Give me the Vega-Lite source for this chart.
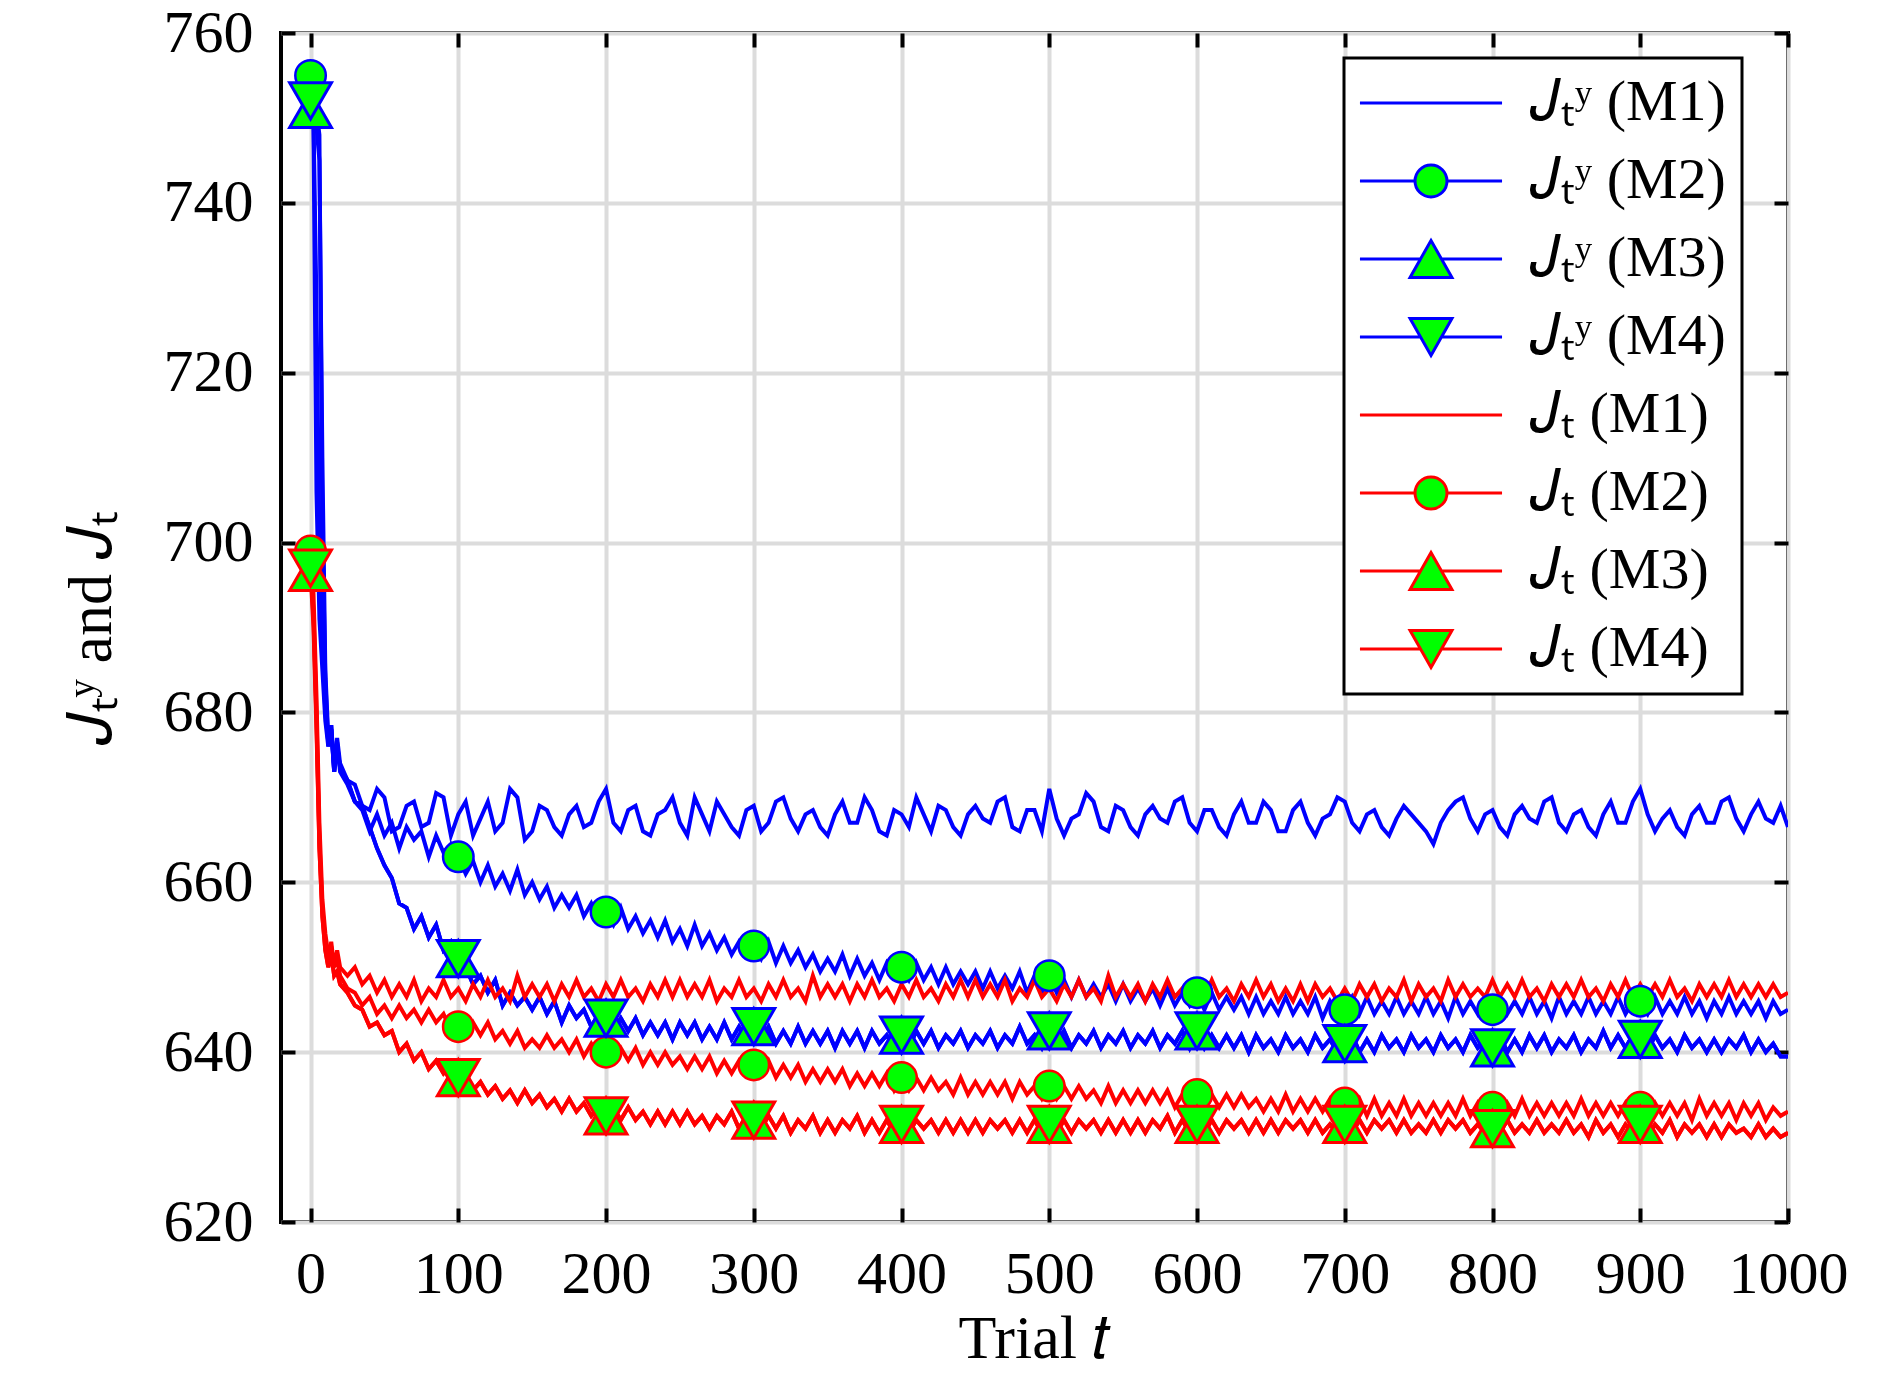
{
  "$schema": "https://vega.github.io/schema/vega-lite/v6.json",
  "width": 1507,
  "height": 1189,
  "autosize": {"type": "none"},
  "padding": {"left": 281, "top": 33, "right": 102, "bottom": 156},
  "background": "white",
  "config": {"view": {"stroke": "black", "strokeWidth": 4}, "font": "Liberation Serif", "legend": {"strokeWidth": 3}},
  "data": {
    "values": [
{"t":0,"s":"a","v":752},{"t":2,"s":"a","v":749},{"t":4,"s":"a","v":706},{"t":6,"s":"a","v":691},{"t":8,"s":"a","v":685},{"t":10,"s":"a","v":679},{"t":12,"s":"a","v":676},{"t":14,"s":"a","v":678.5},{"t":16,"s":"a","v":673},{"t":18,"s":"a","v":677},{"t":20,"s":"a","v":674},
{"t":25,"s":"a","v":672},{"t":30,"s":"a","v":671.5},{"t":35,"s":"a","v":669},{"t":40,"s":"a","v":668.5},{"t":45,"s":"a","v":671},
{"t":50,"s":"a","v":670},{"t":55,"s":"a","v":666},{"t":60,"s":"a","v":666.5},{"t":65,"s":"a","v":669},{"t":70,"s":"a","v":669.5},{"t":75,"s":"a","v":666.5},{"t":80,"s":"a","v":667},{"t":85,"s":"a","v":670.5},{"t":90,"s":"a","v":670},{"t":95,"s":"a","v":665.5},
{"t":100,"s":"a","v":668},{"t":105,"s":"a","v":669.5},{"t":110,"s":"a","v":665.5},{"t":115,"s":"a","v":667.5},{"t":120,"s":"a","v":669.5},{"t":125,"s":"a","v":666},{"t":130,"s":"a","v":667},{"t":135,"s":"a","v":671},{"t":140,"s":"a","v":670},{"t":145,"s":"a","v":665},
{"t":150,"s":"a","v":666},{"t":155,"s":"a","v":669},{"t":160,"s":"a","v":668.5},{"t":165,"s":"a","v":666.5},{"t":170,"s":"a","v":665.5},{"t":175,"s":"a","v":668},{"t":180,"s":"a","v":669},{"t":185,"s":"a","v":666.5},{"t":190,"s":"a","v":667},{"t":195,"s":"a","v":669.5},
{"t":200,"s":"a","v":671},{"t":205,"s":"a","v":667},{"t":210,"s":"a","v":666},{"t":215,"s":"a","v":668.5},{"t":220,"s":"a","v":669},{"t":225,"s":"a","v":666},{"t":230,"s":"a","v":665.5},{"t":235,"s":"a","v":668},{"t":240,"s":"a","v":668.5},{"t":245,"s":"a","v":670},
{"t":250,"s":"a","v":667},{"t":255,"s":"a","v":665.5},{"t":260,"s":"a","v":670},{"t":265,"s":"a","v":668},{"t":270,"s":"a","v":666},{"t":275,"s":"a","v":669.5},{"t":280,"s":"a","v":668},{"t":285,"s":"a","v":666.5},{"t":290,"s":"a","v":665.5},{"t":295,"s":"a","v":668.5},
{"t":300,"s":"a","v":669},{"t":305,"s":"a","v":666},{"t":310,"s":"a","v":667},{"t":315,"s":"a","v":669.5},{"t":320,"s":"a","v":670},{"t":325,"s":"a","v":667.5},{"t":330,"s":"a","v":666},{"t":335,"s":"a","v":668},{"t":340,"s":"a","v":668.5},{"t":345,"s":"a","v":666.5},
{"t":350,"s":"a","v":665.5},{"t":355,"s":"a","v":668},{"t":360,"s":"a","v":669.5},{"t":365,"s":"a","v":667},{"t":370,"s":"a","v":667},{"t":375,"s":"a","v":670},{"t":380,"s":"a","v":668.5},{"t":385,"s":"a","v":666},{"t":390,"s":"a","v":665.5},{"t":395,"s":"a","v":668.5},
{"t":400,"s":"a","v":668},{"t":405,"s":"a","v":666.5},{"t":410,"s":"a","v":670},{"t":415,"s":"a","v":668},{"t":420,"s":"a","v":666},{"t":425,"s":"a","v":669},{"t":430,"s":"a","v":668.5},{"t":435,"s":"a","v":666.5},{"t":440,"s":"a","v":665.5},{"t":445,"s":"a","v":668},
{"t":450,"s":"a","v":669},{"t":455,"s":"a","v":667.5},{"t":460,"s":"a","v":667},{"t":465,"s":"a","v":669.5},{"t":470,"s":"a","v":670},{"t":475,"s":"a","v":666.5},{"t":480,"s":"a","v":666},{"t":485,"s":"a","v":668.5},{"t":490,"s":"a","v":668.5},{"t":495,"s":"a","v":666},
{"t":500,"s":"a","v":671},{"t":505,"s":"a","v":667.5},{"t":510,"s":"a","v":665.5},{"t":515,"s":"a","v":667.5},{"t":520,"s":"a","v":668},{"t":525,"s":"a","v":670.5},{"t":530,"s":"a","v":669.5},{"t":535,"s":"a","v":666.5},{"t":540,"s":"a","v":666},{"t":545,"s":"a","v":669},
{"t":550,"s":"a","v":668.5},{"t":555,"s":"a","v":666.5},{"t":560,"s":"a","v":665.5},{"t":565,"s":"a","v":668},{"t":570,"s":"a","v":669},{"t":575,"s":"a","v":667.5},{"t":580,"s":"a","v":667},{"t":585,"s":"a","v":669.5},{"t":590,"s":"a","v":670},{"t":595,"s":"a","v":667},
{"t":600,"s":"a","v":666},{"t":605,"s":"a","v":668.5},{"t":610,"s":"a","v":668.5},{"t":615,"s":"a","v":666.5},{"t":620,"s":"a","v":665.5},{"t":625,"s":"a","v":668},{"t":630,"s":"a","v":669.5},{"t":635,"s":"a","v":667},{"t":640,"s":"a","v":667},{"t":645,"s":"a","v":669.5},
{"t":650,"s":"a","v":668.5},{"t":655,"s":"a","v":666},{"t":660,"s":"a","v":666},{"t":665,"s":"a","v":668.5},{"t":670,"s":"a","v":669.5},{"t":675,"s":"a","v":667},{"t":680,"s":"a","v":665.5},{"t":685,"s":"a","v":667.5},{"t":690,"s":"a","v":668},{"t":695,"s":"a","v":670},
{"t":700,"s":"a","v":669.5},{"t":705,"s":"a","v":667},{"t":710,"s":"a","v":666},{"t":715,"s":"a","v":668},{"t":720,"s":"a","v":668.5},{"t":725,"s":"a","v":666.5},{"t":730,"s":"a","v":665.5},{"t":735,"s":"a","v":667.5},{"t":740,"s":"a","v":669},{"t":745,"s":"a","v":668},
{"t":750,"s":"a","v":667},{"t":755,"s":"a","v":666},{"t":760,"s":"a","v":664.5},{"t":765,"s":"a","v":667},{"t":770,"s":"a","v":668.5},{"t":775,"s":"a","v":669.5},{"t":780,"s":"a","v":670},{"t":785,"s":"a","v":667.5},{"t":790,"s":"a","v":666},{"t":795,"s":"a","v":668},
{"t":800,"s":"a","v":668.5},{"t":805,"s":"a","v":666.5},{"t":810,"s":"a","v":665.5},{"t":815,"s":"a","v":668},{"t":820,"s":"a","v":669},{"t":825,"s":"a","v":667.5},{"t":830,"s":"a","v":667},{"t":835,"s":"a","v":669.5},{"t":840,"s":"a","v":670},{"t":845,"s":"a","v":667},
{"t":850,"s":"a","v":666},{"t":855,"s":"a","v":668},{"t":860,"s":"a","v":668.5},{"t":865,"s":"a","v":666.5},{"t":870,"s":"a","v":665.5},{"t":875,"s":"a","v":668},{"t":880,"s":"a","v":669.5},{"t":885,"s":"a","v":667},{"t":890,"s":"a","v":667},{"t":895,"s":"a","v":669.5},
{"t":900,"s":"a","v":671},{"t":905,"s":"a","v":668},{"t":910,"s":"a","v":666},{"t":915,"s":"a","v":667.5},{"t":920,"s":"a","v":668.5},{"t":925,"s":"a","v":666.5},{"t":930,"s":"a","v":665.5},{"t":935,"s":"a","v":668},{"t":940,"s":"a","v":669},{"t":945,"s":"a","v":667},
{"t":950,"s":"a","v":667},{"t":955,"s":"a","v":669.5},{"t":960,"s":"a","v":670},{"t":965,"s":"a","v":667.5},{"t":970,"s":"a","v":666},{"t":975,"s":"a","v":668},{"t":980,"s":"a","v":669.5},{"t":985,"s":"a","v":667.5},{"t":990,"s":"a","v":667},{"t":995,"s":"a","v":669},{"t":1000,"s":"a","v":666.5},

{"t":0,"s":"b","v":755},{"t":2,"s":"b","v":753},{"t":4,"s":"b","v":751},{"t":6,"s":"b","v":748},{"t":8,"s":"b","v":702},{"t":10,"s":"b","v":684},{"t":12,"s":"b","v":676},{"t":14,"s":"b","v":678.5},{"t":16,"s":"b","v":673.5},{"t":18,"s":"b","v":676.5},{"t":20,"s":"b","v":673},
{"t":25,"s":"b","v":671.5},{"t":30,"s":"b","v":669.5},{"t":35,"s":"b","v":668.5},{"t":40,"s":"b","v":666},{"t":45,"s":"b","v":668},
{"t":50,"s":"b","v":665.5},{"t":55,"s":"b","v":667},{"t":60,"s":"b","v":664},{"t":65,"s":"b","v":666.5},{"t":70,"s":"b","v":665},{"t":75,"s":"b","v":666},{"t":80,"s":"b","v":663},{"t":85,"s":"b","v":665.5},{"t":90,"s":"b","v":663.5},{"t":95,"s":"b","v":664.5},
{"t":100,"s":"b","v":663},{"t":105,"s":"b","v":661},{"t":110,"s":"b","v":662.5},{"t":115,"s":"b","v":660},{"t":120,"s":"b","v":662},{"t":125,"s":"b","v":659.5},{"t":130,"s":"b","v":661},{"t":135,"s":"b","v":659},{"t":140,"s":"b","v":661.5},{"t":145,"s":"b","v":658.5},
{"t":150,"s":"b","v":660},{"t":155,"s":"b","v":658},{"t":160,"s":"b","v":659.5},{"t":165,"s":"b","v":657},{"t":170,"s":"b","v":658.5},{"t":175,"s":"b","v":657},{"t":180,"s":"b","v":658.5},{"t":185,"s":"b","v":656},{"t":190,"s":"b","v":657.5},{"t":195,"s":"b","v":655.5},
{"t":200,"s":"b","v":656.5},{"t":205,"s":"b","v":655},{"t":210,"s":"b","v":657},{"t":215,"s":"b","v":654.5},{"t":220,"s":"b","v":656},{"t":225,"s":"b","v":654},{"t":230,"s":"b","v":655.5},{"t":235,"s":"b","v":653.5},{"t":240,"s":"b","v":655.5},{"t":245,"s":"b","v":653},
{"t":250,"s":"b","v":654.5},{"t":255,"s":"b","v":652.5},{"t":260,"s":"b","v":655},{"t":265,"s":"b","v":652.5},{"t":270,"s":"b","v":654},{"t":275,"s":"b","v":652},{"t":280,"s":"b","v":653.5},{"t":285,"s":"b","v":651.5},{"t":290,"s":"b","v":653},{"t":295,"s":"b","v":651.5},
{"t":300,"s":"b","v":652.5},{"t":305,"s":"b","v":651},{"t":310,"s":"b","v":653},{"t":315,"s":"b","v":650.5},{"t":320,"s":"b","v":652.5},{"t":325,"s":"b","v":650.5},{"t":330,"s":"b","v":652},{"t":335,"s":"b","v":650},{"t":340,"s":"b","v":651.5},{"t":345,"s":"b","v":649.5},
{"t":350,"s":"b","v":651},{"t":355,"s":"b","v":649.5},{"t":360,"s":"b","v":651.5},{"t":365,"s":"b","v":649},{"t":370,"s":"b","v":651},{"t":375,"s":"b","v":649},{"t":380,"s":"b","v":650.5},{"t":385,"s":"b","v":648.5},{"t":390,"s":"b","v":650.5},{"t":395,"s":"b","v":649},
{"t":400,"s":"b","v":650},{"t":405,"s":"b","v":648.5},{"t":410,"s":"b","v":650.5},{"t":415,"s":"b","v":648.5},{"t":420,"s":"b","v":650},{"t":425,"s":"b","v":648},{"t":430,"s":"b","v":650},{"t":435,"s":"b","v":648},{"t":440,"s":"b","v":649.5},{"t":445,"s":"b","v":648},
{"t":450,"s":"b","v":649.5},{"t":455,"s":"b","v":647.5},{"t":460,"s":"b","v":649.5},{"t":465,"s":"b","v":647.5},{"t":470,"s":"b","v":649},{"t":475,"s":"b","v":647.5},{"t":480,"s":"b","v":649.5},{"t":485,"s":"b","v":647},{"t":490,"s":"b","v":649},{"t":495,"s":"b","v":647},
{"t":500,"s":"b","v":649},{"t":505,"s":"b","v":647},{"t":510,"s":"b","v":648.5},{"t":515,"s":"b","v":646.5},{"t":520,"s":"b","v":648.5},{"t":525,"s":"b","v":646.5},{"t":530,"s":"b","v":648},{"t":535,"s":"b","v":646.5},{"t":540,"s":"b","v":648},{"t":545,"s":"b","v":646},
{"t":550,"s":"b","v":648},{"t":555,"s":"b","v":646},{"t":560,"s":"b","v":647.5},{"t":565,"s":"b","v":646},{"t":570,"s":"b","v":647.5},{"t":575,"s":"b","v":645.5},{"t":580,"s":"b","v":647.5},{"t":585,"s":"b","v":645.5},{"t":590,"s":"b","v":647},{"t":595,"s":"b","v":645.5},
{"t":600,"s":"b","v":647},{"t":605,"s":"b","v":645},{"t":610,"s":"b","v":647},{"t":615,"s":"b","v":645},{"t":620,"s":"b","v":646.5},{"t":625,"s":"b","v":645},{"t":630,"s":"b","v":646.5},{"t":635,"s":"b","v":644.5},{"t":640,"s":"b","v":646.5},{"t":645,"s":"b","v":644.5},
{"t":650,"s":"b","v":646},{"t":655,"s":"b","v":644.5},{"t":660,"s":"b","v":646.5},{"t":665,"s":"b","v":644.5},{"t":670,"s":"b","v":646},{"t":675,"s":"b","v":644.5},{"t":680,"s":"b","v":646.5},{"t":685,"s":"b","v":644},{"t":690,"s":"b","v":646},{"t":695,"s":"b","v":644.5},
{"t":700,"s":"b","v":645},{"t":705,"s":"b","v":646.5},{"t":710,"s":"b","v":644.5},{"t":715,"s":"b","v":646.5},{"t":720,"s":"b","v":644.5},{"t":725,"s":"b","v":646},{"t":730,"s":"b","v":644.5},{"t":735,"s":"b","v":646.5},{"t":740,"s":"b","v":644.5},{"t":745,"s":"b","v":646},
{"t":750,"s":"b","v":644.5},{"t":755,"s":"b","v":646.5},{"t":760,"s":"b","v":644.5},{"t":765,"s":"b","v":646},{"t":770,"s":"b","v":644},{"t":775,"s":"b","v":646.5},{"t":780,"s":"b","v":644.5},{"t":785,"s":"b","v":646},{"t":790,"s":"b","v":644.5},{"t":795,"s":"b","v":646.5},
{"t":800,"s":"b","v":645},{"t":805,"s":"b","v":646.5},{"t":810,"s":"b","v":644.5},{"t":815,"s":"b","v":646},{"t":820,"s":"b","v":644.5},{"t":825,"s":"b","v":646.5},{"t":830,"s":"b","v":644.5},{"t":835,"s":"b","v":646},{"t":840,"s":"b","v":644},{"t":845,"s":"b","v":646.5},
{"t":850,"s":"b","v":644.5},{"t":855,"s":"b","v":646},{"t":860,"s":"b","v":644.5},{"t":865,"s":"b","v":646.5},{"t":870,"s":"b","v":644.5},{"t":875,"s":"b","v":646},{"t":880,"s":"b","v":644.5},{"t":885,"s":"b","v":646.5},{"t":890,"s":"b","v":644.5},{"t":895,"s":"b","v":646},
{"t":900,"s":"b","v":646},{"t":905,"s":"b","v":644.5},{"t":910,"s":"b","v":646.5},{"t":915,"s":"b","v":644.5},{"t":920,"s":"b","v":646},{"t":925,"s":"b","v":644.5},{"t":930,"s":"b","v":646.5},{"t":935,"s":"b","v":644.5},{"t":940,"s":"b","v":646},{"t":945,"s":"b","v":644},
{"t":950,"s":"b","v":646},{"t":955,"s":"b","v":644.5},{"t":960,"s":"b","v":646.5},{"t":965,"s":"b","v":644.5},{"t":970,"s":"b","v":646},{"t":975,"s":"b","v":644.5},{"t":980,"s":"b","v":646},{"t":985,"s":"b","v":644},{"t":990,"s":"b","v":646},{"t":995,"s":"b","v":644.5},{"t":1000,"s":"b","v":645},

{"t":0,"s":"c","v":751},{"t":2,"s":"c","v":750},{"t":4,"s":"c","v":728},{"t":6,"s":"c","v":700},{"t":8,"s":"c","v":688},{"t":10,"s":"c","v":680},{"t":12,"s":"c","v":676.5},{"t":14,"s":"c","v":678},{"t":16,"s":"c","v":673},{"t":18,"s":"c","v":676},{"t":20,"s":"c","v":673.5},
{"t":25,"s":"c","v":672},{"t":30,"s":"c","v":669.5},{"t":35,"s":"c","v":669},{"t":40,"s":"c","v":666.5},{"t":45,"s":"c","v":664},
{"t":50,"s":"c","v":662},{"t":55,"s":"c","v":660.5},{"t":60,"s":"c","v":657.5},{"t":65,"s":"c","v":657},{"t":70,"s":"c","v":654.5},{"t":75,"s":"c","v":656},{"t":80,"s":"c","v":653.5},{"t":85,"s":"c","v":655},{"t":90,"s":"c","v":652},{"t":95,"s":"c","v":653},
{"t":100,"s":"c","v":651},{"t":105,"s":"c","v":650},{"t":110,"s":"c","v":648},{"t":115,"s":"c","v":649},{"t":120,"s":"c","v":647},{"t":125,"s":"c","v":648.5},{"t":130,"s":"c","v":645.5},{"t":135,"s":"c","v":647},{"t":140,"s":"c","v":645.5},{"t":145,"s":"c","v":646.5},
{"t":150,"s":"c","v":645},{"t":155,"s":"c","v":646.5},{"t":160,"s":"c","v":644.5},{"t":165,"s":"c","v":646},{"t":170,"s":"c","v":643.5},{"t":175,"s":"c","v":645.5},{"t":180,"s":"c","v":644},{"t":185,"s":"c","v":645},{"t":190,"s":"c","v":643},{"t":195,"s":"c","v":644.5},
{"t":200,"s":"c","v":644},{"t":205,"s":"c","v":642.5},{"t":210,"s":"c","v":644},{"t":215,"s":"c","v":642.5},{"t":220,"s":"c","v":644},{"t":225,"s":"c","v":642},{"t":230,"s":"c","v":643.5},{"t":235,"s":"c","v":642},{"t":240,"s":"c","v":643.5},{"t":245,"s":"c","v":641.5},
{"t":250,"s":"c","v":643.5},{"t":255,"s":"c","v":642},{"t":260,"s":"c","v":643.5},{"t":265,"s":"c","v":641.5},{"t":270,"s":"c","v":643},{"t":275,"s":"c","v":641.5},{"t":280,"s":"c","v":643.5},{"t":285,"s":"c","v":641.5},{"t":290,"s":"c","v":643},{"t":295,"s":"c","v":641.5},
{"t":300,"s":"c","v":643},{"t":305,"s":"c","v":641.5},{"t":310,"s":"c","v":643},{"t":315,"s":"c","v":641},{"t":320,"s":"c","v":642.5},{"t":325,"s":"c","v":641},{"t":330,"s":"c","v":643},{"t":335,"s":"c","v":641},{"t":340,"s":"c","v":642.5},{"t":345,"s":"c","v":641},
{"t":350,"s":"c","v":642.5},{"t":355,"s":"c","v":640.5},{"t":360,"s":"c","v":642.5},{"t":365,"s":"c","v":641},{"t":370,"s":"c","v":642.5},{"t":375,"s":"c","v":640.5},{"t":380,"s":"c","v":642.5},{"t":385,"s":"c","v":641},{"t":390,"s":"c","v":642},{"t":395,"s":"c","v":640.5},
{"t":400,"s":"c","v":642},{"t":405,"s":"c","v":640.5},{"t":410,"s":"c","v":642.5},{"t":415,"s":"c","v":641},{"t":420,"s":"c","v":642.5},{"t":425,"s":"c","v":640.5},{"t":430,"s":"c","v":642},{"t":435,"s":"c","v":641},{"t":440,"s":"c","v":642.5},{"t":445,"s":"c","v":640.5},
{"t":450,"s":"c","v":642},{"t":455,"s":"c","v":641},{"t":460,"s":"c","v":642.5},{"t":465,"s":"c","v":640.5},{"t":470,"s":"c","v":642},{"t":475,"s":"c","v":641},{"t":480,"s":"c","v":643},{"t":485,"s":"c","v":641},{"t":490,"s":"c","v":642},{"t":495,"s":"c","v":640.5},
{"t":500,"s":"c","v":642.5},{"t":505,"s":"c","v":641},{"t":510,"s":"c","v":642.5},{"t":515,"s":"c","v":640.5},{"t":520,"s":"c","v":642},{"t":525,"s":"c","v":641},{"t":530,"s":"c","v":642.5},{"t":535,"s":"c","v":640.5},{"t":540,"s":"c","v":642},{"t":545,"s":"c","v":641},
{"t":550,"s":"c","v":642.5},{"t":555,"s":"c","v":640.5},{"t":560,"s":"c","v":642},{"t":565,"s":"c","v":641},{"t":570,"s":"c","v":642.5},{"t":575,"s":"c","v":640.5},{"t":580,"s":"c","v":642},{"t":585,"s":"c","v":641},{"t":590,"s":"c","v":642.5},{"t":595,"s":"c","v":640.5},
{"t":600,"s":"c","v":642.5},{"t":605,"s":"c","v":640.5},{"t":610,"s":"c","v":642},{"t":615,"s":"c","v":640.5},{"t":620,"s":"c","v":642},{"t":625,"s":"c","v":640.5},{"t":630,"s":"c","v":642},{"t":635,"s":"c","v":640},{"t":640,"s":"c","v":642},{"t":645,"s":"c","v":640.5},
{"t":650,"s":"c","v":641.5},{"t":655,"s":"c","v":640},{"t":660,"s":"c","v":642},{"t":665,"s":"c","v":640.5},{"t":670,"s":"c","v":641.5},{"t":675,"s":"c","v":640},{"t":680,"s":"c","v":642},{"t":685,"s":"c","v":640.5},{"t":690,"s":"c","v":641.5},{"t":695,"s":"c","v":640},
{"t":700,"s":"c","v":641},{"t":705,"s":"c","v":642},{"t":710,"s":"c","v":640},{"t":715,"s":"c","v":641.5},{"t":720,"s":"c","v":640},{"t":725,"s":"c","v":642},{"t":730,"s":"c","v":640.5},{"t":735,"s":"c","v":641.5},{"t":740,"s":"c","v":640},{"t":745,"s":"c","v":642},
{"t":750,"s":"c","v":640.5},{"t":755,"s":"c","v":641.5},{"t":760,"s":"c","v":640},{"t":765,"s":"c","v":642},{"t":770,"s":"c","v":640.5},{"t":775,"s":"c","v":641.5},{"t":780,"s":"c","v":640},{"t":785,"s":"c","v":642},{"t":790,"s":"c","v":640.5},{"t":795,"s":"c","v":641.5},
{"t":800,"s":"c","v":640.5},{"t":805,"s":"c","v":642},{"t":810,"s":"c","v":640},{"t":815,"s":"c","v":641.5},{"t":820,"s":"c","v":640},{"t":825,"s":"c","v":642},{"t":830,"s":"c","v":640.5},{"t":835,"s":"c","v":642},{"t":840,"s":"c","v":640},{"t":845,"s":"c","v":641.5},
{"t":850,"s":"c","v":640.5},{"t":855,"s":"c","v":642},{"t":860,"s":"c","v":640},{"t":865,"s":"c","v":641.5},{"t":870,"s":"c","v":640.5},{"t":875,"s":"c","v":642.5},{"t":880,"s":"c","v":640.5},{"t":885,"s":"c","v":642},{"t":890,"s":"c","v":640.5},{"t":895,"s":"c","v":642},
{"t":900,"s":"c","v":641.5},{"t":905,"s":"c","v":640},{"t":910,"s":"c","v":642},{"t":915,"s":"c","v":640.5},{"t":920,"s":"c","v":641.5},{"t":925,"s":"c","v":640},{"t":930,"s":"c","v":642},{"t":935,"s":"c","v":640.5},{"t":940,"s":"c","v":641.5},{"t":945,"s":"c","v":640},
{"t":950,"s":"c","v":641.5},{"t":955,"s":"c","v":640},{"t":960,"s":"c","v":641.5},{"t":965,"s":"c","v":640.5},{"t":970,"s":"c","v":642},{"t":975,"s":"c","v":640},{"t":980,"s":"c","v":641.5},{"t":985,"s":"c","v":640},{"t":990,"s":"c","v":641},{"t":995,"s":"c","v":639.5},{"t":1000,"s":"c","v":639.5},

{"t":0,"s":"d","v":752},{"t":2,"s":"d","v":752},{"t":4,"s":"d","v":749},{"t":6,"s":"d","v":745},{"t":8,"s":"d","v":710},{"t":10,"s":"d","v":685},{"t":12,"s":"d","v":677},{"t":14,"s":"d","v":678},{"t":16,"s":"d","v":673},{"t":18,"s":"d","v":676},{"t":20,"s":"d","v":673.5},
{"t":25,"s":"d","v":672},{"t":30,"s":"d","v":669.5},{"t":35,"s":"d","v":669},{"t":40,"s":"d","v":666.5},{"t":45,"s":"d","v":664},
{"t":50,"s":"d","v":662},{"t":55,"s":"d","v":660.5},{"t":60,"s":"d","v":657.5},{"t":65,"s":"d","v":657},{"t":70,"s":"d","v":654.5},{"t":75,"s":"d","v":656},{"t":80,"s":"d","v":653.5},{"t":85,"s":"d","v":655},{"t":90,"s":"d","v":652},{"t":95,"s":"d","v":653},
{"t":100,"s":"d","v":651},{"t":105,"s":"d","v":650},{"t":110,"s":"d","v":648},{"t":115,"s":"d","v":649},{"t":120,"s":"d","v":647},{"t":125,"s":"d","v":648.5},{"t":130,"s":"d","v":645.5},{"t":135,"s":"d","v":647},{"t":140,"s":"d","v":645.5},{"t":145,"s":"d","v":646.5},
{"t":150,"s":"d","v":645},{"t":155,"s":"d","v":646.5},{"t":160,"s":"d","v":644.5},{"t":165,"s":"d","v":646},{"t":170,"s":"d","v":643.5},{"t":175,"s":"d","v":645.5},{"t":180,"s":"d","v":644},{"t":185,"s":"d","v":645},{"t":190,"s":"d","v":643},{"t":195,"s":"d","v":644.5},
{"t":200,"s":"d","v":644},{"t":205,"s":"d","v":642.5},{"t":210,"s":"d","v":644},{"t":215,"s":"d","v":642.5},{"t":220,"s":"d","v":644},{"t":225,"s":"d","v":642},{"t":230,"s":"d","v":643.5},{"t":235,"s":"d","v":642},{"t":240,"s":"d","v":643.5},{"t":245,"s":"d","v":641.5},
{"t":250,"s":"d","v":643.5},{"t":255,"s":"d","v":642},{"t":260,"s":"d","v":643.5},{"t":265,"s":"d","v":641.5},{"t":270,"s":"d","v":643},{"t":275,"s":"d","v":641.5},{"t":280,"s":"d","v":643.5},{"t":285,"s":"d","v":641.5},{"t":290,"s":"d","v":643},{"t":295,"s":"d","v":641.5},
{"t":300,"s":"d","v":643},{"t":305,"s":"d","v":641.5},{"t":310,"s":"d","v":643},{"t":315,"s":"d","v":641},{"t":320,"s":"d","v":642.5},{"t":325,"s":"d","v":641},{"t":330,"s":"d","v":643},{"t":335,"s":"d","v":641},{"t":340,"s":"d","v":642.5},{"t":345,"s":"d","v":641},
{"t":350,"s":"d","v":642.5},{"t":355,"s":"d","v":640.5},{"t":360,"s":"d","v":642.5},{"t":365,"s":"d","v":641},{"t":370,"s":"d","v":642.5},{"t":375,"s":"d","v":640.5},{"t":380,"s":"d","v":642.5},{"t":385,"s":"d","v":641},{"t":390,"s":"d","v":642},{"t":395,"s":"d","v":640.5},
{"t":400,"s":"d","v":642},{"t":405,"s":"d","v":640.5},{"t":410,"s":"d","v":642.5},{"t":415,"s":"d","v":641},{"t":420,"s":"d","v":642.5},{"t":425,"s":"d","v":640.5},{"t":430,"s":"d","v":642},{"t":435,"s":"d","v":641},{"t":440,"s":"d","v":642.5},{"t":445,"s":"d","v":640.5},
{"t":450,"s":"d","v":642},{"t":455,"s":"d","v":641},{"t":460,"s":"d","v":642.5},{"t":465,"s":"d","v":640.5},{"t":470,"s":"d","v":642},{"t":475,"s":"d","v":641},{"t":480,"s":"d","v":643},{"t":485,"s":"d","v":641},{"t":490,"s":"d","v":642},{"t":495,"s":"d","v":640.5},
{"t":500,"s":"d","v":642.5},{"t":505,"s":"d","v":641},{"t":510,"s":"d","v":642.5},{"t":515,"s":"d","v":640.5},{"t":520,"s":"d","v":642},{"t":525,"s":"d","v":641},{"t":530,"s":"d","v":642.5},{"t":535,"s":"d","v":640.5},{"t":540,"s":"d","v":642},{"t":545,"s":"d","v":641},
{"t":550,"s":"d","v":642.5},{"t":555,"s":"d","v":640.5},{"t":560,"s":"d","v":642},{"t":565,"s":"d","v":641},{"t":570,"s":"d","v":642.5},{"t":575,"s":"d","v":640.5},{"t":580,"s":"d","v":642},{"t":585,"s":"d","v":641},{"t":590,"s":"d","v":642.5},{"t":595,"s":"d","v":640.5},
{"t":600,"s":"d","v":642.5},{"t":605,"s":"d","v":640.5},{"t":610,"s":"d","v":642},{"t":615,"s":"d","v":640.5},{"t":620,"s":"d","v":642},{"t":625,"s":"d","v":640.5},{"t":630,"s":"d","v":642},{"t":635,"s":"d","v":640},{"t":640,"s":"d","v":642},{"t":645,"s":"d","v":640.5},
{"t":650,"s":"d","v":641.5},{"t":655,"s":"d","v":640},{"t":660,"s":"d","v":642},{"t":665,"s":"d","v":640.5},{"t":670,"s":"d","v":641.5},{"t":675,"s":"d","v":640},{"t":680,"s":"d","v":642},{"t":685,"s":"d","v":640.5},{"t":690,"s":"d","v":641.5},{"t":695,"s":"d","v":640},
{"t":700,"s":"d","v":641},{"t":705,"s":"d","v":642},{"t":710,"s":"d","v":640},{"t":715,"s":"d","v":641.5},{"t":720,"s":"d","v":640},{"t":725,"s":"d","v":642},{"t":730,"s":"d","v":640.5},{"t":735,"s":"d","v":641.5},{"t":740,"s":"d","v":640},{"t":745,"s":"d","v":642},
{"t":750,"s":"d","v":640.5},{"t":755,"s":"d","v":641.5},{"t":760,"s":"d","v":640},{"t":765,"s":"d","v":642},{"t":770,"s":"d","v":640.5},{"t":775,"s":"d","v":641.5},{"t":780,"s":"d","v":640},{"t":785,"s":"d","v":642},{"t":790,"s":"d","v":640.5},{"t":795,"s":"d","v":641.5},
{"t":800,"s":"d","v":640.5},{"t":805,"s":"d","v":642},{"t":810,"s":"d","v":640},{"t":815,"s":"d","v":641.5},{"t":820,"s":"d","v":640},{"t":825,"s":"d","v":642},{"t":830,"s":"d","v":640.5},{"t":835,"s":"d","v":642},{"t":840,"s":"d","v":640},{"t":845,"s":"d","v":641.5},
{"t":850,"s":"d","v":640.5},{"t":855,"s":"d","v":642},{"t":860,"s":"d","v":640},{"t":865,"s":"d","v":641.5},{"t":870,"s":"d","v":640.5},{"t":875,"s":"d","v":642.5},{"t":880,"s":"d","v":640.5},{"t":885,"s":"d","v":642},{"t":890,"s":"d","v":640.5},{"t":895,"s":"d","v":642},
{"t":900,"s":"d","v":641.5},{"t":905,"s":"d","v":640},{"t":910,"s":"d","v":642},{"t":915,"s":"d","v":640.5},{"t":920,"s":"d","v":641.5},{"t":925,"s":"d","v":640},{"t":930,"s":"d","v":642},{"t":935,"s":"d","v":640.5},{"t":940,"s":"d","v":641.5},{"t":945,"s":"d","v":640},
{"t":950,"s":"d","v":641.5},{"t":955,"s":"d","v":640},{"t":960,"s":"d","v":641.5},{"t":965,"s":"d","v":640.5},{"t":970,"s":"d","v":642},{"t":975,"s":"d","v":640},{"t":980,"s":"d","v":641.5},{"t":985,"s":"d","v":640},{"t":990,"s":"d","v":641},{"t":995,"s":"d","v":639.5},{"t":1000,"s":"d","v":639.5},

{"t":0,"s":"e","v":697},{"t":2,"s":"e","v":692},{"t":4,"s":"e","v":680},{"t":6,"s":"e","v":665},{"t":8,"s":"e","v":657},{"t":10,"s":"e","v":653},{"t":12,"s":"e","v":651},{"t":14,"s":"e","v":653},{"t":16,"s":"e","v":650},{"t":18,"s":"e","v":652},{"t":20,"s":"e","v":650},
{"t":25,"s":"e","v":649},{"t":30,"s":"e","v":650},{"t":35,"s":"e","v":648},{"t":40,"s":"e","v":649},{"t":45,"s":"e","v":647},
{"t":50,"s":"e","v":648.5},{"t":55,"s":"e","v":646.5},{"t":60,"s":"e","v":648},{"t":65,"s":"e","v":646.5},{"t":70,"s":"e","v":648.5},{"t":75,"s":"e","v":646},{"t":80,"s":"e","v":647.5},{"t":85,"s":"e","v":646.5},{"t":90,"s":"e","v":648.5},{"t":95,"s":"e","v":646.5},
{"t":100,"s":"e","v":647.5},{"t":105,"s":"e","v":646},{"t":110,"s":"e","v":648},{"t":115,"s":"e","v":646.5},{"t":120,"s":"e","v":648.5},{"t":125,"s":"e","v":646.5},{"t":130,"s":"e","v":647.5},{"t":135,"s":"e","v":646},{"t":140,"s":"e","v":649},{"t":145,"s":"e","v":646.5},
{"t":150,"s":"e","v":648},{"t":155,"s":"e","v":646.5},{"t":160,"s":"e","v":648},{"t":165,"s":"e","v":646},{"t":170,"s":"e","v":648},{"t":175,"s":"e","v":646.5},{"t":180,"s":"e","v":648.5},{"t":185,"s":"e","v":646.5},{"t":190,"s":"e","v":647.5},{"t":195,"s":"e","v":646},
{"t":200,"s":"e","v":648},{"t":205,"s":"e","v":646.5},{"t":210,"s":"e","v":648.5},{"t":215,"s":"e","v":646.5},{"t":220,"s":"e","v":647.5},{"t":225,"s":"e","v":646},{"t":230,"s":"e","v":648},{"t":235,"s":"e","v":646.5},{"t":240,"s":"e","v":648.5},{"t":245,"s":"e","v":646.5},
{"t":250,"s":"e","v":648.5},{"t":255,"s":"e","v":646.5},{"t":260,"s":"e","v":648},{"t":265,"s":"e","v":646.5},{"t":270,"s":"e","v":648.5},{"t":275,"s":"e","v":646},{"t":280,"s":"e","v":647.5},{"t":285,"s":"e","v":646.5},{"t":290,"s":"e","v":648.5},{"t":295,"s":"e","v":646.5},
{"t":300,"s":"e","v":647.5},{"t":305,"s":"e","v":646},{"t":310,"s":"e","v":648},{"t":315,"s":"e","v":646.5},{"t":320,"s":"e","v":648.5},{"t":325,"s":"e","v":646.5},{"t":330,"s":"e","v":647.5},{"t":335,"s":"e","v":646},{"t":340,"s":"e","v":649},{"t":345,"s":"e","v":646.5},
{"t":350,"s":"e","v":648},{"t":355,"s":"e","v":646.5},{"t":360,"s":"e","v":648},{"t":365,"s":"e","v":646},{"t":370,"s":"e","v":648},{"t":375,"s":"e","v":646.5},{"t":380,"s":"e","v":648.5},{"t":385,"s":"e","v":646.5},{"t":390,"s":"e","v":647.5},{"t":395,"s":"e","v":646},
{"t":400,"s":"e","v":648},{"t":405,"s":"e","v":646.5},{"t":410,"s":"e","v":648.5},{"t":415,"s":"e","v":646.5},{"t":420,"s":"e","v":647.5},{"t":425,"s":"e","v":646},{"t":430,"s":"e","v":648},{"t":435,"s":"e","v":646.5},{"t":440,"s":"e","v":648.5},{"t":445,"s":"e","v":646.5},
{"t":450,"s":"e","v":648.5},{"t":455,"s":"e","v":646.5},{"t":460,"s":"e","v":648},{"t":465,"s":"e","v":646.5},{"t":470,"s":"e","v":648.5},{"t":475,"s":"e","v":646},{"t":480,"s":"e","v":647.5},{"t":485,"s":"e","v":646.5},{"t":490,"s":"e","v":648.5},{"t":495,"s":"e","v":646.5},
{"t":500,"s":"e","v":647.5},{"t":505,"s":"e","v":646},{"t":510,"s":"e","v":648},{"t":515,"s":"e","v":646.5},{"t":520,"s":"e","v":648.5},{"t":525,"s":"e","v":646.5},{"t":530,"s":"e","v":647.5},{"t":535,"s":"e","v":646},{"t":540,"s":"e","v":649},{"t":545,"s":"e","v":646.5},
{"t":550,"s":"e","v":648},{"t":555,"s":"e","v":646.5},{"t":560,"s":"e","v":648},{"t":565,"s":"e","v":646},{"t":570,"s":"e","v":648},{"t":575,"s":"e","v":646.5},{"t":580,"s":"e","v":648.5},{"t":585,"s":"e","v":646.5},{"t":590,"s":"e","v":647.5},{"t":595,"s":"e","v":646},
{"t":600,"s":"e","v":648},{"t":605,"s":"e","v":646.5},{"t":610,"s":"e","v":648.5},{"t":615,"s":"e","v":646.5},{"t":620,"s":"e","v":647.5},{"t":625,"s":"e","v":646},{"t":630,"s":"e","v":648},{"t":635,"s":"e","v":646.5},{"t":640,"s":"e","v":648.5},{"t":645,"s":"e","v":646.5},
{"t":650,"s":"e","v":648},{"t":655,"s":"e","v":646},{"t":660,"s":"e","v":647.5},{"t":665,"s":"e","v":646},{"t":670,"s":"e","v":648},{"t":675,"s":"e","v":646},{"t":680,"s":"e","v":648},{"t":685,"s":"e","v":646.5},{"t":690,"s":"e","v":647.5},{"t":695,"s":"e","v":646},
{"t":700,"s":"e","v":647.5},{"t":705,"s":"e","v":646},{"t":710,"s":"e","v":648},{"t":715,"s":"e","v":646.5},{"t":720,"s":"e","v":648},{"t":725,"s":"e","v":646},{"t":730,"s":"e","v":647.5},{"t":735,"s":"e","v":646.5},{"t":740,"s":"e","v":648.5},{"t":745,"s":"e","v":646},
{"t":750,"s":"e","v":648},{"t":755,"s":"e","v":646.5},{"t":760,"s":"e","v":647.5},{"t":765,"s":"e","v":646},{"t":770,"s":"e","v":648.5},{"t":775,"s":"e","v":646.5},{"t":780,"s":"e","v":648},{"t":785,"s":"e","v":646.5},{"t":790,"s":"e","v":647.5},{"t":795,"s":"e","v":646.5},
{"t":800,"s":"e","v":648.5},{"t":805,"s":"e","v":646.5},{"t":810,"s":"e","v":648},{"t":815,"s":"e","v":646.5},{"t":820,"s":"e","v":648.5},{"t":825,"s":"e","v":646.5},{"t":830,"s":"e","v":647.5},{"t":835,"s":"e","v":646},{"t":840,"s":"e","v":648},{"t":845,"s":"e","v":646.5},
{"t":850,"s":"e","v":648},{"t":855,"s":"e","v":646.5},{"t":860,"s":"e","v":648.5},{"t":865,"s":"e","v":646.5},{"t":870,"s":"e","v":647.5},{"t":875,"s":"e","v":646},{"t":880,"s":"e","v":648},{"t":885,"s":"e","v":646.5},{"t":890,"s":"e","v":648.5},{"t":895,"s":"e","v":646.5},
{"t":900,"s":"e","v":648},{"t":905,"s":"e","v":646.5},{"t":910,"s":"e","v":648},{"t":915,"s":"e","v":646.5},{"t":920,"s":"e","v":648.5},{"t":925,"s":"e","v":646.5},{"t":930,"s":"e","v":647.5},{"t":935,"s":"e","v":646},{"t":940,"s":"e","v":648},{"t":945,"s":"e","v":646.5},
{"t":950,"s":"e","v":648},{"t":955,"s":"e","v":646.5},{"t":960,"s":"e","v":648.5},{"t":965,"s":"e","v":646.5},{"t":970,"s":"e","v":648},{"t":975,"s":"e","v":646.5},{"t":980,"s":"e","v":648},{"t":985,"s":"e","v":646.5},{"t":990,"s":"e","v":648},{"t":995,"s":"e","v":646.5},{"t":1000,"s":"e","v":647},

{"t":0,"s":"f","v":699},{"t":2,"s":"f","v":694},{"t":4,"s":"f","v":682},{"t":6,"s":"f","v":667},{"t":8,"s":"f","v":658},{"t":10,"s":"f","v":654},{"t":12,"s":"f","v":651.5},{"t":14,"s":"f","v":652.5},{"t":16,"s":"f","v":650},{"t":18,"s":"f","v":651},{"t":20,"s":"f","v":649},
{"t":25,"s":"f","v":647.5},{"t":30,"s":"f","v":647},{"t":35,"s":"f","v":645.5},{"t":40,"s":"f","v":646.5},{"t":45,"s":"f","v":644.5},
{"t":50,"s":"f","v":645.5},{"t":55,"s":"f","v":644},{"t":60,"s":"f","v":645.5},{"t":65,"s":"f","v":644},{"t":70,"s":"f","v":645},{"t":75,"s":"f","v":643.5},{"t":80,"s":"f","v":645},{"t":85,"s":"f","v":643.5},{"t":90,"s":"f","v":644.5},{"t":95,"s":"f","v":642.5},
{"t":100,"s":"f","v":643},{"t":105,"s":"f","v":642},{"t":110,"s":"f","v":643.5},{"t":115,"s":"f","v":642},{"t":120,"s":"f","v":643.5},{"t":125,"s":"f","v":641.5},{"t":130,"s":"f","v":642.5},{"t":135,"s":"f","v":641},{"t":140,"s":"f","v":642.5},{"t":145,"s":"f","v":640.5},
{"t":150,"s":"f","v":641.5},{"t":155,"s":"f","v":640.5},{"t":160,"s":"f","v":642},{"t":165,"s":"f","v":640.5},{"t":170,"s":"f","v":641.5},{"t":175,"s":"f","v":640},{"t":180,"s":"f","v":641.5},{"t":185,"s":"f","v":639.5},{"t":190,"s":"f","v":641},{"t":195,"s":"f","v":639.5},
{"t":200,"s":"f","v":640},{"t":205,"s":"f","v":639},{"t":210,"s":"f","v":640.5},{"t":215,"s":"f","v":639},{"t":220,"s":"f","v":640.5},{"t":225,"s":"f","v":638.5},{"t":230,"s":"f","v":640},{"t":235,"s":"f","v":638.5},{"t":240,"s":"f","v":640},{"t":245,"s":"f","v":638.5},
{"t":250,"s":"f","v":639.5},{"t":255,"s":"f","v":638},{"t":260,"s":"f","v":639.5},{"t":265,"s":"f","v":638},{"t":270,"s":"f","v":639.5},{"t":275,"s":"f","v":637.5},{"t":280,"s":"f","v":639},{"t":285,"s":"f","v":637.5},{"t":290,"s":"f","v":639},{"t":295,"s":"f","v":637.5},
{"t":300,"s":"f","v":638.5},{"t":305,"s":"f","v":637.5},{"t":310,"s":"f","v":639},{"t":315,"s":"f","v":637},{"t":320,"s":"f","v":638.5},{"t":325,"s":"f","v":637},{"t":330,"s":"f","v":638.5},{"t":335,"s":"f","v":636.5},{"t":340,"s":"f","v":638},{"t":345,"s":"f","v":636.5},
{"t":350,"s":"f","v":638},{"t":355,"s":"f","v":636.5},{"t":360,"s":"f","v":638},{"t":365,"s":"f","v":636},{"t":370,"s":"f","v":637.5},{"t":375,"s":"f","v":636},{"t":380,"s":"f","v":637.5},{"t":385,"s":"f","v":636},{"t":390,"s":"f","v":637.5},{"t":395,"s":"f","v":635.5},
{"t":400,"s":"f","v":637},{"t":405,"s":"f","v":635.5},{"t":410,"s":"f","v":637},{"t":415,"s":"f","v":635.5},{"t":420,"s":"f","v":637},{"t":425,"s":"f","v":635.5},{"t":430,"s":"f","v":636.5},{"t":435,"s":"f","v":635},{"t":440,"s":"f","v":637},{"t":445,"s":"f","v":635},
{"t":450,"s":"f","v":636.5},{"t":455,"s":"f","v":635},{"t":460,"s":"f","v":636.5},{"t":465,"s":"f","v":635},{"t":470,"s":"f","v":636.5},{"t":475,"s":"f","v":634.5},{"t":480,"s":"f","v":636.5},{"t":485,"s":"f","v":635},{"t":490,"s":"f","v":636},{"t":495,"s":"f","v":634.5},
{"t":500,"s":"f","v":636},{"t":505,"s":"f","v":634.5},{"t":510,"s":"f","v":636},{"t":515,"s":"f","v":634.5},{"t":520,"s":"f","v":636},{"t":525,"s":"f","v":634.5},{"t":530,"s":"f","v":635.5},{"t":535,"s":"f","v":634},{"t":540,"s":"f","v":636},{"t":545,"s":"f","v":634},
{"t":550,"s":"f","v":635.5},{"t":555,"s":"f","v":634},{"t":560,"s":"f","v":635.5},{"t":565,"s":"f","v":634},{"t":570,"s":"f","v":635.5},{"t":575,"s":"f","v":634},{"t":580,"s":"f","v":635.5},{"t":585,"s":"f","v":633.5},{"t":590,"s":"f","v":635},{"t":595,"s":"f","v":634},
{"t":600,"s":"f","v":635},{"t":605,"s":"f","v":633.5},{"t":610,"s":"f","v":635},{"t":615,"s":"f","v":633.5},{"t":620,"s":"f","v":635},{"t":625,"s":"f","v":633.5},{"t":630,"s":"f","v":635},{"t":635,"s":"f","v":633.5},{"t":640,"s":"f","v":634.5},{"t":645,"s":"f","v":633},
{"t":650,"s":"f","v":634.5},{"t":655,"s":"f","v":633},{"t":660,"s":"f","v":635},{"t":665,"s":"f","v":633},{"t":670,"s":"f","v":634.5},{"t":675,"s":"f","v":633},{"t":680,"s":"f","v":634.5},{"t":685,"s":"f","v":633},{"t":690,"s":"f","v":634.5},{"t":695,"s":"f","v":632.5},
{"t":700,"s":"f","v":634},{"t":705,"s":"f","v":633},{"t":710,"s":"f","v":634.5},{"t":715,"s":"f","v":632.5},{"t":720,"s":"f","v":634.5},{"t":725,"s":"f","v":632.5},{"t":730,"s":"f","v":634},{"t":735,"s":"f","v":632.5},{"t":740,"s":"f","v":634.5},{"t":745,"s":"f","v":632.5},
{"t":750,"s":"f","v":634},{"t":755,"s":"f","v":632.5},{"t":760,"s":"f","v":634},{"t":765,"s":"f","v":632.5},{"t":770,"s":"f","v":634},{"t":775,"s":"f","v":632.5},{"t":780,"s":"f","v":634.5},{"t":785,"s":"f","v":632.5},{"t":790,"s":"f","v":634},{"t":795,"s":"f","v":632.5},
{"t":800,"s":"f","v":633.5},{"t":805,"s":"f","v":632.5},{"t":810,"s":"f","v":634},{"t":815,"s":"f","v":632.5},{"t":820,"s":"f","v":634.5},{"t":825,"s":"f","v":632.5},{"t":830,"s":"f","v":634},{"t":835,"s":"f","v":632.5},{"t":840,"s":"f","v":634},{"t":845,"s":"f","v":632.5},
{"t":850,"s":"f","v":634},{"t":855,"s":"f","v":632.5},{"t":860,"s":"f","v":634.5},{"t":865,"s":"f","v":632.5},{"t":870,"s":"f","v":634},{"t":875,"s":"f","v":632.5},{"t":880,"s":"f","v":634},{"t":885,"s":"f","v":632.5},{"t":890,"s":"f","v":634},{"t":895,"s":"f","v":632.5},
{"t":900,"s":"f","v":633.5},{"t":905,"s":"f","v":632.5},{"t":910,"s":"f","v":634},{"t":915,"s":"f","v":632.5},{"t":920,"s":"f","v":634},{"t":925,"s":"f","v":632.5},{"t":930,"s":"f","v":634},{"t":935,"s":"f","v":632},{"t":940,"s":"f","v":634.5},{"t":945,"s":"f","v":632.5},
{"t":950,"s":"f","v":634},{"t":955,"s":"f","v":632.5},{"t":960,"s":"f","v":634},{"t":965,"s":"f","v":632},{"t":970,"s":"f","v":634},{"t":975,"s":"f","v":632.5},{"t":980,"s":"f","v":634},{"t":985,"s":"f","v":632},{"t":990,"s":"f","v":633.5},{"t":995,"s":"f","v":632.5},{"t":1000,"s":"f","v":633},

{"t":0,"s":"g","v":696.5},{"t":2,"s":"g","v":690},{"t":4,"s":"g","v":678},{"t":6,"s":"g","v":664},{"t":8,"s":"g","v":656},{"t":10,"s":"g","v":652},{"t":12,"s":"g","v":650},{"t":14,"s":"g","v":651.5},{"t":16,"s":"g","v":649},{"t":18,"s":"g","v":649.5},{"t":20,"s":"g","v":648},
{"t":25,"s":"g","v":647},{"t":30,"s":"g","v":645.5},{"t":35,"s":"g","v":645},{"t":40,"s":"g","v":643},{"t":45,"s":"g","v":643.5},
{"t":50,"s":"g","v":642},{"t":55,"s":"g","v":642.5},{"t":60,"s":"g","v":640},{"t":65,"s":"g","v":641},{"t":70,"s":"g","v":639},{"t":75,"s":"g","v":640},{"t":80,"s":"g","v":638},{"t":85,"s":"g","v":639},{"t":90,"s":"g","v":637.5},{"t":95,"s":"g","v":638.5},
{"t":100,"s":"g","v":637},{"t":105,"s":"g","v":637.5},{"t":110,"s":"g","v":635.5},{"t":115,"s":"g","v":636.5},{"t":120,"s":"g","v":635},{"t":125,"s":"g","v":636},{"t":130,"s":"g","v":634.5},{"t":135,"s":"g","v":635.5},{"t":140,"s":"g","v":634},{"t":145,"s":"g","v":635.5},
{"t":150,"s":"g","v":634},{"t":155,"s":"g","v":635},{"t":160,"s":"g","v":633.5},{"t":165,"s":"g","v":634.5},{"t":170,"s":"g","v":633},{"t":175,"s":"g","v":634.5},{"t":180,"s":"g","v":633},{"t":185,"s":"g","v":634},{"t":190,"s":"g","v":632.5},{"t":195,"s":"g","v":633.5},
{"t":200,"s":"g","v":632.5},{"t":205,"s":"g","v":633.5},{"t":210,"s":"g","v":632},{"t":215,"s":"g","v":633.5},{"t":220,"s":"g","v":632},{"t":225,"s":"g","v":633},{"t":230,"s":"g","v":631.5},{"t":235,"s":"g","v":633},{"t":240,"s":"g","v":631.5},{"t":245,"s":"g","v":633},
{"t":250,"s":"g","v":631.5},{"t":255,"s":"g","v":633},{"t":260,"s":"g","v":631.5},{"t":265,"s":"g","v":632.5},{"t":270,"s":"g","v":631},{"t":275,"s":"g","v":632.5},{"t":280,"s":"g","v":631.5},{"t":285,"s":"g","v":633},{"t":290,"s":"g","v":631},{"t":295,"s":"g","v":632.5},
{"t":300,"s":"g","v":632},{"t":305,"s":"g","v":631},{"t":310,"s":"g","v":632.5},{"t":315,"s":"g","v":631},{"t":320,"s":"g","v":632.5},{"t":325,"s":"g","v":630.5},{"t":330,"s":"g","v":632},{"t":335,"s":"g","v":631},{"t":340,"s":"g","v":632.5},{"t":345,"s":"g","v":630.5},
{"t":350,"s":"g","v":632},{"t":355,"s":"g","v":630.5},{"t":360,"s":"g","v":632},{"t":365,"s":"g","v":631},{"t":370,"s":"g","v":632.5},{"t":375,"s":"g","v":630.5},{"t":380,"s":"g","v":632},{"t":385,"s":"g","v":630.5},{"t":390,"s":"g","v":632},{"t":395,"s":"g","v":630.5},
{"t":400,"s":"g","v":631.5},{"t":405,"s":"g","v":630.5},{"t":410,"s":"g","v":632},{"t":415,"s":"g","v":631},{"t":420,"s":"g","v":632},{"t":425,"s":"g","v":630.5},{"t":430,"s":"g","v":632},{"t":435,"s":"g","v":630.5},{"t":440,"s":"g","v":632},{"t":445,"s":"g","v":630.5},
{"t":450,"s":"g","v":632},{"t":455,"s":"g","v":630.5},{"t":460,"s":"g","v":632},{"t":465,"s":"g","v":631},{"t":470,"s":"g","v":632},{"t":475,"s":"g","v":630.5},{"t":480,"s":"g","v":632},{"t":485,"s":"g","v":630.5},{"t":490,"s":"g","v":632},{"t":495,"s":"g","v":630.5},
{"t":500,"s":"g","v":631.5},{"t":505,"s":"g","v":630.5},{"t":510,"s":"g","v":632},{"t":515,"s":"g","v":630.5},{"t":520,"s":"g","v":632},{"t":525,"s":"g","v":631},{"t":530,"s":"g","v":632},{"t":535,"s":"g","v":630.5},{"t":540,"s":"g","v":632},{"t":545,"s":"g","v":630.5},
{"t":550,"s":"g","v":632},{"t":555,"s":"g","v":630.5},{"t":560,"s":"g","v":632},{"t":565,"s":"g","v":630.5},{"t":570,"s":"g","v":632},{"t":575,"s":"g","v":631},{"t":580,"s":"g","v":632.5},{"t":585,"s":"g","v":630.5},{"t":590,"s":"g","v":632},{"t":595,"s":"g","v":630.5},
{"t":600,"s":"g","v":631.5},{"t":605,"s":"g","v":630.5},{"t":610,"s":"g","v":632},{"t":615,"s":"g","v":630.5},{"t":620,"s":"g","v":632},{"t":625,"s":"g","v":631},{"t":630,"s":"g","v":632},{"t":635,"s":"g","v":630.5},{"t":640,"s":"g","v":632},{"t":645,"s":"g","v":630.5},
{"t":650,"s":"g","v":632},{"t":655,"s":"g","v":630.5},{"t":660,"s":"g","v":632},{"t":665,"s":"g","v":631},{"t":670,"s":"g","v":632},{"t":675,"s":"g","v":630.5},{"t":680,"s":"g","v":632},{"t":685,"s":"g","v":630.5},{"t":690,"s":"g","v":631.5},{"t":695,"s":"g","v":630.5},
{"t":700,"s":"g","v":631.5},{"t":705,"s":"g","v":630.5},{"t":710,"s":"g","v":632},{"t":715,"s":"g","v":630.5},{"t":720,"s":"g","v":632},{"t":725,"s":"g","v":631},{"t":730,"s":"g","v":632},{"t":735,"s":"g","v":630.5},{"t":740,"s":"g","v":632},{"t":745,"s":"g","v":630.5},
{"t":750,"s":"g","v":631.5},{"t":755,"s":"g","v":630.5},{"t":760,"s":"g","v":632},{"t":765,"s":"g","v":630.5},{"t":770,"s":"g","v":632},{"t":775,"s":"g","v":631},{"t":780,"s":"g","v":632},{"t":785,"s":"g","v":630.5},{"t":790,"s":"g","v":631.5},{"t":795,"s":"g","v":630.5},
{"t":800,"s":"g","v":631},{"t":805,"s":"g","v":630.5},{"t":810,"s":"g","v":632},{"t":815,"s":"g","v":630.5},{"t":820,"s":"g","v":631.5},{"t":825,"s":"g","v":630.5},{"t":830,"s":"g","v":632},{"t":835,"s":"g","v":630.5},{"t":840,"s":"g","v":631.5},{"t":845,"s":"g","v":630.5},
{"t":850,"s":"g","v":632},{"t":855,"s":"g","v":630.5},{"t":860,"s":"g","v":631.5},{"t":865,"s":"g","v":630},{"t":870,"s":"g","v":632},{"t":875,"s":"g","v":630.5},{"t":880,"s":"g","v":631.5},{"t":885,"s":"g","v":630},{"t":890,"s":"g","v":631.5},{"t":895,"s":"g","v":630.5},
{"t":900,"s":"g","v":631.5},{"t":905,"s":"g","v":630},{"t":910,"s":"g","v":631.5},{"t":915,"s":"g","v":630.5},{"t":920,"s":"g","v":632},{"t":925,"s":"g","v":630},{"t":930,"s":"g","v":631.5},{"t":935,"s":"g","v":630.5},{"t":940,"s":"g","v":631.5},{"t":945,"s":"g","v":630},
{"t":950,"s":"g","v":631.5},{"t":955,"s":"g","v":630},{"t":960,"s":"g","v":631.5},{"t":965,"s":"g","v":630.5},{"t":970,"s":"g","v":631},{"t":975,"s":"g","v":630},{"t":980,"s":"g","v":631.5},{"t":985,"s":"g","v":630},{"t":990,"s":"g","v":631},{"t":995,"s":"g","v":630},{"t":1000,"s":"g","v":630.5},

{"t":0,"s":"h","v":697},{"t":2,"s":"h","v":691},{"t":4,"s":"h","v":679},{"t":6,"s":"h","v":664},{"t":8,"s":"h","v":656},{"t":10,"s":"h","v":652},{"t":12,"s":"h","v":650},{"t":14,"s":"h","v":651.5},{"t":16,"s":"h","v":649},{"t":18,"s":"h","v":649.5},{"t":20,"s":"h","v":648},
{"t":25,"s":"h","v":647},{"t":30,"s":"h","v":645.5},{"t":35,"s":"h","v":645},{"t":40,"s":"h","v":643},{"t":45,"s":"h","v":643.5},
{"t":50,"s":"h","v":642},{"t":55,"s":"h","v":642.5},{"t":60,"s":"h","v":640},{"t":65,"s":"h","v":641},{"t":70,"s":"h","v":639},{"t":75,"s":"h","v":640},{"t":80,"s":"h","v":638},{"t":85,"s":"h","v":639},{"t":90,"s":"h","v":637.5},{"t":95,"s":"h","v":638.5},
{"t":100,"s":"h","v":637},{"t":105,"s":"h","v":637.5},{"t":110,"s":"h","v":635.5},{"t":115,"s":"h","v":636.5},{"t":120,"s":"h","v":635},{"t":125,"s":"h","v":636},{"t":130,"s":"h","v":634.5},{"t":135,"s":"h","v":635.5},{"t":140,"s":"h","v":634},{"t":145,"s":"h","v":635.5},
{"t":150,"s":"h","v":634},{"t":155,"s":"h","v":635},{"t":160,"s":"h","v":633.5},{"t":165,"s":"h","v":634.5},{"t":170,"s":"h","v":633},{"t":175,"s":"h","v":634.5},{"t":180,"s":"h","v":633},{"t":185,"s":"h","v":634},{"t":190,"s":"h","v":632.5},{"t":195,"s":"h","v":633.5},
{"t":200,"s":"h","v":632.5},{"t":205,"s":"h","v":633.5},{"t":210,"s":"h","v":632},{"t":215,"s":"h","v":633.5},{"t":220,"s":"h","v":632},{"t":225,"s":"h","v":633},{"t":230,"s":"h","v":631.5},{"t":235,"s":"h","v":633},{"t":240,"s":"h","v":631.5},{"t":245,"s":"h","v":633},
{"t":250,"s":"h","v":631.5},{"t":255,"s":"h","v":633},{"t":260,"s":"h","v":631.5},{"t":265,"s":"h","v":632.5},{"t":270,"s":"h","v":631},{"t":275,"s":"h","v":632.5},{"t":280,"s":"h","v":631.5},{"t":285,"s":"h","v":633},{"t":290,"s":"h","v":631},{"t":295,"s":"h","v":632.5},
{"t":300,"s":"h","v":632},{"t":305,"s":"h","v":631},{"t":310,"s":"h","v":632.5},{"t":315,"s":"h","v":631},{"t":320,"s":"h","v":632.5},{"t":325,"s":"h","v":630.5},{"t":330,"s":"h","v":632},{"t":335,"s":"h","v":631},{"t":340,"s":"h","v":632.5},{"t":345,"s":"h","v":630.5},
{"t":350,"s":"h","v":632},{"t":355,"s":"h","v":630.5},{"t":360,"s":"h","v":632},{"t":365,"s":"h","v":631},{"t":370,"s":"h","v":632.5},{"t":375,"s":"h","v":630.5},{"t":380,"s":"h","v":632},{"t":385,"s":"h","v":630.5},{"t":390,"s":"h","v":632},{"t":395,"s":"h","v":630.5},
{"t":400,"s":"h","v":631.5},{"t":405,"s":"h","v":630.5},{"t":410,"s":"h","v":632},{"t":415,"s":"h","v":631},{"t":420,"s":"h","v":632},{"t":425,"s":"h","v":630.5},{"t":430,"s":"h","v":632},{"t":435,"s":"h","v":630.5},{"t":440,"s":"h","v":632},{"t":445,"s":"h","v":630.5},
{"t":450,"s":"h","v":632},{"t":455,"s":"h","v":630.5},{"t":460,"s":"h","v":632},{"t":465,"s":"h","v":631},{"t":470,"s":"h","v":632},{"t":475,"s":"h","v":630.5},{"t":480,"s":"h","v":632},{"t":485,"s":"h","v":630.5},{"t":490,"s":"h","v":632},{"t":495,"s":"h","v":630.5},
{"t":500,"s":"h","v":631.5},{"t":505,"s":"h","v":630.5},{"t":510,"s":"h","v":632},{"t":515,"s":"h","v":630.5},{"t":520,"s":"h","v":632},{"t":525,"s":"h","v":631},{"t":530,"s":"h","v":632},{"t":535,"s":"h","v":630.5},{"t":540,"s":"h","v":632},{"t":545,"s":"h","v":630.5},
{"t":550,"s":"h","v":632},{"t":555,"s":"h","v":630.5},{"t":560,"s":"h","v":632},{"t":565,"s":"h","v":630.5},{"t":570,"s":"h","v":632},{"t":575,"s":"h","v":631},{"t":580,"s":"h","v":632.5},{"t":585,"s":"h","v":630.5},{"t":590,"s":"h","v":632},{"t":595,"s":"h","v":630.5},
{"t":600,"s":"h","v":631.5},{"t":605,"s":"h","v":630.5},{"t":610,"s":"h","v":632},{"t":615,"s":"h","v":630.5},{"t":620,"s":"h","v":632},{"t":625,"s":"h","v":631},{"t":630,"s":"h","v":632},{"t":635,"s":"h","v":630.5},{"t":640,"s":"h","v":632},{"t":645,"s":"h","v":630.5},
{"t":650,"s":"h","v":632},{"t":655,"s":"h","v":630.5},{"t":660,"s":"h","v":632},{"t":665,"s":"h","v":631},{"t":670,"s":"h","v":632},{"t":675,"s":"h","v":630.5},{"t":680,"s":"h","v":632},{"t":685,"s":"h","v":630.5},{"t":690,"s":"h","v":631.5},{"t":695,"s":"h","v":630.5},
{"t":700,"s":"h","v":631.5},{"t":705,"s":"h","v":630.5},{"t":710,"s":"h","v":632},{"t":715,"s":"h","v":630.5},{"t":720,"s":"h","v":632},{"t":725,"s":"h","v":631},{"t":730,"s":"h","v":632},{"t":735,"s":"h","v":630.5},{"t":740,"s":"h","v":632},{"t":745,"s":"h","v":630.5},
{"t":750,"s":"h","v":631.5},{"t":755,"s":"h","v":630.5},{"t":760,"s":"h","v":632},{"t":765,"s":"h","v":630.5},{"t":770,"s":"h","v":632},{"t":775,"s":"h","v":631},{"t":780,"s":"h","v":632},{"t":785,"s":"h","v":630.5},{"t":790,"s":"h","v":631.5},{"t":795,"s":"h","v":630.5},
{"t":800,"s":"h","v":631},{"t":805,"s":"h","v":630.5},{"t":810,"s":"h","v":632},{"t":815,"s":"h","v":630.5},{"t":820,"s":"h","v":631.5},{"t":825,"s":"h","v":630.5},{"t":830,"s":"h","v":632},{"t":835,"s":"h","v":630.5},{"t":840,"s":"h","v":631.5},{"t":845,"s":"h","v":630.5},
{"t":850,"s":"h","v":632},{"t":855,"s":"h","v":630.5},{"t":860,"s":"h","v":631.5},{"t":865,"s":"h","v":630},{"t":870,"s":"h","v":632},{"t":875,"s":"h","v":630.5},{"t":880,"s":"h","v":631.5},{"t":885,"s":"h","v":630},{"t":890,"s":"h","v":631.5},{"t":895,"s":"h","v":630.5},
{"t":900,"s":"h","v":631.5},{"t":905,"s":"h","v":630},{"t":910,"s":"h","v":631.5},{"t":915,"s":"h","v":630.5},{"t":920,"s":"h","v":632},{"t":925,"s":"h","v":630},{"t":930,"s":"h","v":631.5},{"t":935,"s":"h","v":630.5},{"t":940,"s":"h","v":631.5},{"t":945,"s":"h","v":630},
{"t":950,"s":"h","v":631.5},{"t":955,"s":"h","v":630},{"t":960,"s":"h","v":631.5},{"t":965,"s":"h","v":630.5},{"t":970,"s":"h","v":631},{"t":975,"s":"h","v":630},{"t":980,"s":"h","v":631.5},{"t":985,"s":"h","v":630},{"t":990,"s":"h","v":631},{"t":995,"s":"h","v":630},{"t":1000,"s":"h","v":630.5}
    ]
  },
  "layer": [
    {
      "mark": {"type": "line", "strokeWidth": 4, "clip": true},
      "encoding": {
        "x": {
          "field": "t", "type": "quantitative",
          "scale": {"domain": [-20, 1000], "nice": false, "zero": false},
          "axis": {
            "values": [0, 100, 200, 300, 400, 500, 600, 700, 800, 900, 1000], "format": "d",
            "title": "Trial 𝑡", "grid": true, "gridColor": "#dcdcdc", "gridWidth": 4,
            "domain": false, "ticks": true, "tickSize": -14, "tickWidth": 4, "tickColor": "black",
            "labelFont": "Liberation Serif", "labelFontSize": 60, "labelColor": "black",
            "labelPadding": 37, "labelFlush": false, "labelOverlap": false,
            "titleFont": "Liberation Serif", "titleFontSize": 62, "titleFontWeight": "normal",
            "titleColor": "black", "titlePadding": 4
          }
        },
        "y": {
          "field": "v", "type": "quantitative",
          "scale": {"domain": [620, 760], "nice": false, "zero": false},
          "axis": {
            "values": [620, 640, 660, 680, 700, 720, 740, 760],
            "title": "𝐽ₜʸ and 𝐽ₜ", "grid": true, "gridColor": "#dcdcdc", "gridWidth": 4,
            "domain": false, "ticks": true, "tickSize": -14, "tickWidth": 4, "tickColor": "black",
            "labelFont": "Liberation Serif", "labelFontSize": 60, "labelColor": "black",
            "labelPadding": 42, "labelFlush": false, "labelOverlap": false,
            "titleFont": "Liberation Serif", "titleFontSize": 62, "titleFontWeight": "normal",
            "titleColor": "black", "titlePadding": 40
          }
        },
        "color": {
          "field": "s", "type": "nominal",
          "scale": {"range": ["#0000ff", "#0000ff", "#0000ff", "#0000ff", "#ff0000", "#ff0000", "#ff0000", "#ff0000"]},
          "legend": null
        }
      }
    },
    {
      "transform": [
        {"filter": {"field": "t", "oneOf": [0, 100, 200, 300, 400, 500, 600, 700, 800, 900]}},
        {"filter": {"field": "s", "oneOf": ["b", "f"]}}
      ],
      "mark": {"type": "point", "shape": "circle", "size": 930, "filled": false, "fill": "#00ff00", "fillOpacity": 1, "opacity": 1, "strokeWidth": 2.5},
      "encoding": {
        "x": {"field": "t", "type": "quantitative", "axis": null},
        "y": {"field": "v", "type": "quantitative", "axis": null},
        "color": {"field": "s", "type": "nominal", "legend": null}
      }
    },
    {
      "transform": [
        {"filter": {"field": "t", "oneOf": [0, 100, 200, 300, 400, 500, 600, 700, 800, 900]}},
        {"filter": {"field": "s", "oneOf": ["c", "g"]}}
      ],
      "mark": {"type": "point", "shape": "triangle-up", "size": 1750, "filled": false, "fill": "#00ff00", "fillOpacity": 1, "opacity": 1, "strokeWidth": 3},
      "encoding": {
        "x": {"field": "t", "type": "quantitative", "axis": null},
        "y": {"field": "v", "type": "quantitative", "axis": null},
        "color": {"field": "s", "type": "nominal", "legend": null}
      }
    },
    {
      "transform": [
        {"filter": {"field": "t", "oneOf": [0, 100, 200, 300, 400, 500, 600, 700, 800, 900]}},
        {"filter": {"field": "s", "oneOf": ["d", "h"]}}
      ],
      "mark": {"type": "point", "shape": "triangle-down", "size": 1750, "filled": false, "fill": "#00ff00", "fillOpacity": 1, "opacity": 1, "strokeWidth": 3},
      "encoding": {
        "x": {"field": "t", "type": "quantitative", "axis": null},
        "y": {"field": "v", "type": "quantitative", "axis": null},
        "color": {"field": "s", "type": "nominal", "legend": null}
      }
    },
    {
      "transform": [{"filter": {"field": "t", "equal": 0}}],
      "mark": {"type": "point", "filled": true, "fill": "#00ff00", "opacity": 0, "size": 1024, "strokeWidth": 3},
      "encoding": {
        "x": {
          "field": "t", "type": "quantitative",
          "axis": {"orient": "top", "values": [0, 100, 200, 300, 400, 500, 600, 700, 800, 900, 1000], "labels": false, "title": null, "grid": false, "domain": false, "ticks": true, "tickSize": -14, "tickWidth": 4, "tickColor": "black"}
        },
        "y": {
          "field": "v", "type": "quantitative",
          "axis": {"orient": "right", "values": [620, 640, 660, 680, 700, 720, 740, 760], "labels": false, "title": null, "grid": false, "domain": false, "ticks": true, "tickSize": -14, "tickWidth": 4, "tickColor": "black"}
        },
        "stroke": {
          "field": "s", "type": "nominal",
          "scale": {"domain": ["a", "b", "c", "d", "e", "f", "g", "h"], "range": ["#0000ff", "#0000ff", "#0000ff", "#0000ff", "#ff0000", "#ff0000", "#ff0000", "#ff0000"]},
          "legend": {
            "title": null, "orient": "none", "legendX": 1063, "legendY": 25,
            "padding": 16, "fillColor": "white", "strokeColor": "black",
            "symbolSize": 1024, "symbolStrokeWidth": 3, "symbolOpacity": 1,
            "symbolOffset": 42, "labelOffset": 70, "rowPadding": 20,
            "labelFont": "Liberation Serif", "labelFontSize": 58, "labelColor": "black", "labelLimit": 600,
            "labelExpr": "datum.value == 'a' ? '𝐽ₜʸ (M1)' : datum.value == 'b' ? '𝐽ₜʸ (M2)' : datum.value == 'c' ? '𝐽ₜʸ (M3)' : datum.value == 'd' ? '𝐽ₜʸ (M4)' : datum.value == 'e' ? '𝐽ₜ (M1)' : datum.value == 'f' ? '𝐽ₜ (M2)' : datum.value == 'g' ? '𝐽ₜ (M3)' : '𝐽ₜ (M4)'"
          }
        },
        "shape": {
          "field": "s", "type": "nominal",
          "scale": {
            "domain": ["a", "b", "c", "d", "e", "f", "g", "h"],
            "range": [
              "M-4.44,0H4.44",
              "M-4.44,0H-1M1,0H4.44M1,0A1,1,0,1,1,-1,0A1,1,0,1,1,1,0Z",
              "M-4.44,0H-0.66M0.66,0H4.44M0,-1.16L1.31,1.16L-1.31,1.16Z",
              "M-4.44,0H-0.66M0.66,0H4.44M0,1.16L1.31,-1.16L-1.31,-1.16Z",
              "M-4.44,0H4.44",
              "M-4.44,0H-1M1,0H4.44M1,0A1,1,0,1,1,-1,0A1,1,0,1,1,1,0Z",
              "M-4.44,0H-0.66M0.66,0H4.44M0,-1.16L1.31,1.16L-1.31,1.16Z",
              "M-4.44,0H-0.66M0.66,0H4.44M0,1.16L1.31,-1.16L-1.31,-1.16Z"
            ]
          },
          "legend": {
            "title": null, "orient": "none", "legendX": 1063, "legendY": 25,
            "padding": 16, "fillColor": "white", "strokeColor": "black",
            "symbolSize": 1024, "symbolStrokeWidth": 3, "symbolOpacity": 1,
            "symbolOffset": 42, "labelOffset": 70, "rowPadding": 20,
            "labelFont": "Liberation Serif", "labelFontSize": 58, "labelColor": "black", "labelLimit": 600,
            "labelExpr": "datum.value == 'a' ? '𝐽ₜʸ (M1)' : datum.value == 'b' ? '𝐽ₜʸ (M2)' : datum.value == 'c' ? '𝐽ₜʸ (M3)' : datum.value == 'd' ? '𝐽ₜʸ (M4)' : datum.value == 'e' ? '𝐽ₜ (M1)' : datum.value == 'f' ? '𝐽ₜ (M2)' : datum.value == 'g' ? '𝐽ₜ (M3)' : '𝐽ₜ (M4)'"
          }
        }
      }
    }
  ],
  "resolve": {"axis": {"x": "independent", "y": "independent"}}
}
